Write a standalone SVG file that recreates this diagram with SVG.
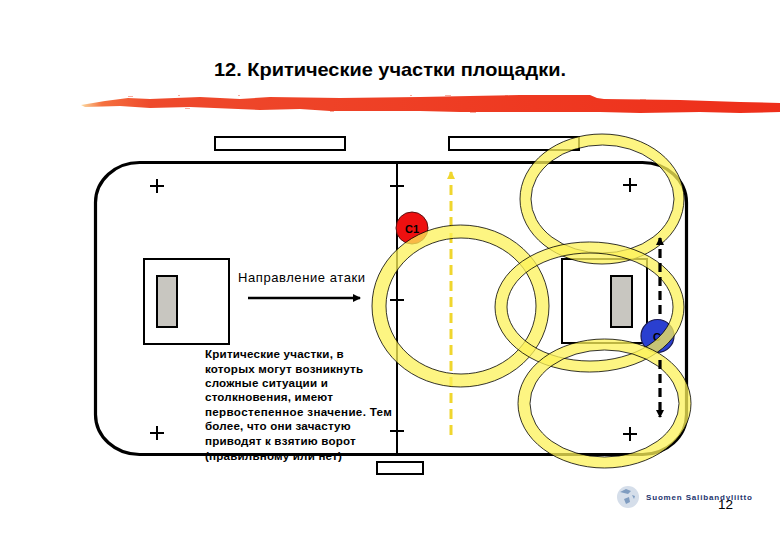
<svg xmlns="http://www.w3.org/2000/svg" width="780" height="540" viewBox="0 0 780 540">
<style>
text{font-family:"Liberation Sans",Arial,sans-serif;fill:#000}
.box{fill:#fff;stroke:#000;stroke-width:2}
.goal{fill:#c8c6c0;stroke:#000;stroke-width:2}
.ln{fill:none;stroke:#000;stroke-width:2}
.ring{fill:#fcf258;fill-opacity:.75;fill-rule:evenodd;stroke:#000;stroke-width:.8}
.body{font-size:11.6px;font-weight:bold;letter-spacing:.2px}
</style>
<defs>
<linearGradient id="brush" x1="0" x2="1" y1="0" y2="0">
<stop offset="0" stop-color="#fbd9a0"/><stop offset=".03" stop-color="#f5713f"/><stop offset=".1" stop-color="#ee4a2c"/><stop offset="1" stop-color="#ee2e1a"/>
</linearGradient>
<marker id="ab" markerUnits="userSpaceOnUse" markerWidth="10" markerHeight="10" refX="7" refY="4" orient="auto"><path d="M0 0L8 4L0 8Z" fill="#000"/></marker>
<marker id="ay" markerUnits="userSpaceOnUse" markerWidth="10" markerHeight="10" refX="7" refY="4" orient="auto"><path d="M0 0L8 4L0 8Z" fill="#f0d62e"/></marker>
</defs>
<rect width="780" height="540" fill="#fff"/>
<text id="title" x="214" y="76" font-size="19px" font-weight="bold" textLength="352" lengthAdjust="spacingAndGlyphs">12. Критические участки площадки.</text>
<path id="brush-stroke" fill="url(#brush)" d="M81 105L105 101L128 98L150 99L200 97L240 99L270 97L340 98L420 97L470 96L520 95L590 95L597 98L604 99L680 100L740 102L780 103L780 112L740 113L700 112L640 113L600 112L520 112L460 112L420 111L330 111L300 109L260 110L190 107L150 108L120 106L85 107Z"/>
<path id="brush-specks" fill="#ee4a2c" fill-opacity=".45" d="M128 96h5v1h-5ZM178 95h2v1h-2ZM238 95h2v1h-2ZM410 95h2v1h-2ZM445 95h6v1h-6ZM505 95h3v1h-3ZM185 108h5v1h-5ZM330 111h4v1h-4ZM470 112h6v1h-6ZM640 99h6v1h-6Z"/>
<g id="goal-top-left"><rect class="box" x="215" y="137" width="130" height="13"/></g>
<g id="goal-top-right"><rect class="box" x="449" y="137" width="130" height="13"/></g>
<g id="goal-bottom"><rect class="box" x="377" y="462" width="46" height="12"/></g>
<g id="crease-left"><rect class="box" x="144" y="259" width="85" height="85"/><rect class="goal" x="157" y="276" width="20" height="51"/></g>
<g id="crease-right"><rect class="box" x="562" y="259" width="85" height="84"/><rect class="goal" x="611" y="276" width="21" height="51"/></g>
<g id="label-attack"><text x="238" y="282" font-size="13px" textLength="127">Направление атаки</text></g>
<g id="note">
<text class="body" x="205" y="358">Критические участки, в</text>
<text class="body" x="205" y="373">которых могут возникнуть</text>
<text class="body" x="205" y="387">сложные ситуации и</text>
<text class="body" x="205" y="401">столкновения, имеют</text>
<text class="body" x="205" y="416" textLength="187">первостепенное значение. Тем</text>
<text class="body" x="205" y="430">более, что они зачастую</text>
<text class="body" x="205" y="445">приводят к взятию ворот</text>
<text class="body" x="205" y="460">(правильному или нет)</text>
</g>
<g id="rink">
<rect x="95.500" y="162.500" width="591" height="292" rx="44" ry="40" fill="none" stroke="#000" stroke-width="3.200"/>
<path class="ln" d="M397 163V455"/>
</g>
<g id="marks">
<path class="ln" d="M390 186H404M390 300H404M390 431H404"/>
<path class="ln" d="M150 186H164M157 179V193M623 185H637M630 178V192M150 433H164M157 426V440M623 434H637M630 427V441"/>
</g>
<g id="connectors-under">
<path d="M248 298H360" fill="none" stroke="#000" stroke-width="2.500" marker-end="url(#ab)"/>
<path d="M451 435V172" fill="none" stroke="#f0d62e" stroke-width="3" stroke-dasharray="10 6" marker-end="url(#ay)"/>
</g>
<g id="player-c1"><circle cx="412" cy="228" r="16" fill="#ee1010" stroke="#5a1010" stroke-width="1"/><text x="412" y="233" font-size="11px" font-weight="bold" text-anchor="middle">C1</text></g>
<g id="player-c"><circle cx="657.500" cy="336" r="16.500" fill="#2a3fd0" stroke="#1a1a50" stroke-width="1.200"/><text x="657" y="341" font-size="11px" font-weight="bold" text-anchor="middle">C</text></g>
<g id="zones">
<path class="ring" d="M520 199a82 65 0 1 0 164 0a82 65 0 1 0-164 0ZM531 199a71.500 54 0 1 0 143 0a71.500 54 0 1 0-143 0Z"/>
<path class="ring" d="M372 306a88.500 81 0 1 0 177 0a88.500 81 0 1 0-177 0ZM386 306a75 68 0 1 0 150 0a75 68 0 1 0-150 0Z"/>
<path class="ring" d="M495 307a94.500 65 0 1 0 189 0a94.500 65 0 1 0-189 0ZM507 307a83 54 0 1 0 166 0a83 54 0 1 0-166 0Z"/>
<path class="ring" d="M518 403.500a86.500 64.500 0 1 0 173 0a86.500 64.500 0 1 0-173 0ZM530 403.500a74.500 53.500 0 1 0 149 0a74.500 53.500 0 1 0-149 0Z"/>
</g>
<g id="connectors-over">
<path d="M660 314V238" fill="none" stroke="#000" stroke-width="3.200" stroke-dasharray="9 5" marker-end="url(#ab)"/>
<path d="M660 360V417" fill="none" stroke="#000" stroke-width="3.200" stroke-dasharray="9 5" marker-end="url(#ab)"/>
</g>
<g id="logo">
<circle cx="628" cy="497" r="11" fill="#d5deea"/>
<path d="M620 492l6-3 5 2-3 3ZM624 499l5-2 1 5-4 2ZM632 495l3 1-1 3Z" fill="#7f9cc0"/>
<text x="646" y="500" font-size="8px" font-weight="bold" textLength="106" style="fill:#23346e">Suomen Salibandyliitto</text>
</g>
<text id="page-number" x="718" y="509" font-size="13.500px">12</text>
</svg>
